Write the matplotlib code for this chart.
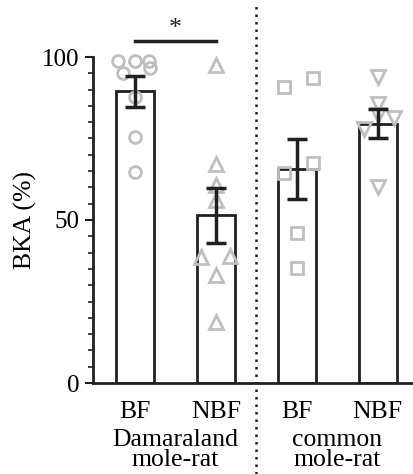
import matplotlib
matplotlib.use("Agg")
import matplotlib.pyplot as plt
from matplotlib.ticker import MultipleLocator
from matplotlib.lines import Line2D

plt.rcParams['font.family'] = ['Liberation Serif', 'DejaVu Serif']

categories = ["BF", "NBF", "BF", "NBF"]
groups = ["Damaraland\nmole-rat", "common\nmole-rat"]
means = [89.5, 51.4, 65.7, 79.6]
sems = [4.8, 8.5, 9.2, 4.6]

bf_dam = [98.8, 98.8, 98.8, 95.1, 96.6, 87.8, 75.5, 64.8]
nbf_dam = [97.5, 67.3, 60.6, 56.0, 38.5, 39.1, 33.0, 18.7]
bf_com = [90.8, 93.6, 67.6, 64.5, 45.9, 35.2]
nbf_com = [93.9, 85.6, 82.3, 81.3, 78.0, 60.2]

jit_bf_dam = [-0.21, 0.0, 0.17, -0.15, 0.19, 0.0, 0.0, 0.0]
jit_nbf_dam = [0.0, 0.0, 0.0, 0.0, -0.19, 0.18, 0.0, 0.0]
jit_bf_com = [-0.16, 0.2, 0.2, -0.16, 0.0, 0.0]
jit_nbf_com = [0.0, 0.0, 0.0, 0.2, -0.17, 0.0]

points = [bf_dam, nbf_dam, bf_com, nbf_com]
jitters = [jit_bf_dam, jit_nbf_dam, jit_bf_com, jit_nbf_com]
markers = ['o', '^', 's', 'v']
msizes = [8.5, 10, 8.5, 10]

dark = '#231f20'
grey = '#bcbec0'
fs = 18.5

fig = plt.figure(figsize=(4.14, 4.74), dpi=100)
ax = fig.add_axes([93/414, 1-383/474, 1-93/414, (383-57)/474])

x = list(range(len(categories)))
ax.bar(x, means, width=0.47, facecolor='white', edgecolor=dark, linewidth=2, zorder=1)
for i in x:
    xs = [i + j for j in jitters[i]]
    ax.plot(xs, points[i], linestyle='none', marker=markers[i], ms=msizes[i],
            mfc='none', mec=grey, mew=2, zorder=2, clip_on=False)
ax.errorbar(x, means, yerr=sems, fmt='none', ecolor=dark, elinewidth=2.5,
            capsize=7.5, capthick=2.5, zorder=3)

ax.set_xlim(-0.52, 3.45)
ax.set_ylim(0, 100)
ax.spines['top'].set_visible(False)
ax.spines['right'].set_visible(False)
ax.spines['left'].set_linewidth(2)
ax.spines['bottom'].set_linewidth(2)
ax.spines['left'].set_color(dark)
ax.spines['bottom'].set_color(dark)
ax.yaxis.set_major_locator(MultipleLocator(50))
ax.yaxis.set_minor_locator(MultipleLocator(5))
ax.tick_params(axis='y', which='major', length=6, width=1.5, labelsize=18, color=dark, pad=4)
ax.tick_params(axis='y', which='minor', length=3.5, width=1.2, color=dark)
ax.set_xticks(x)
ax.set_xticklabels(categories, fontsize=fs)
ax.tick_params(axis='x', length=0, pad=13)
ax.set_ylabel("BKA (%)", fontsize=fs)
ax.yaxis.set_label_coords(-0.175, 0.5)

# group labels
for gi, g in enumerate(groups):
    xc = 0.5 + 2 * gi
    ax.text(xc, -0.14, g, transform=ax.get_xaxis_transform(), ha='center', va='top',
            fontsize=fs, linespacing=0.9)

# significance
ax.plot([0, 1], [105, 105], color=dark, lw=2.5, clip_on=False)
ax.text(0.5, 105.3, '*', ha='center', va='bottom', fontsize=fs, color=dark)

# dotted separator
fig.add_artist(Line2D([256/414, 256/414], [0, 1 - 5/474], transform=fig.transFigure,
                      color=dark, lw=1.8, linestyle=(0, (1, 2))))

fig.savefig('out.png', dpi=100)
